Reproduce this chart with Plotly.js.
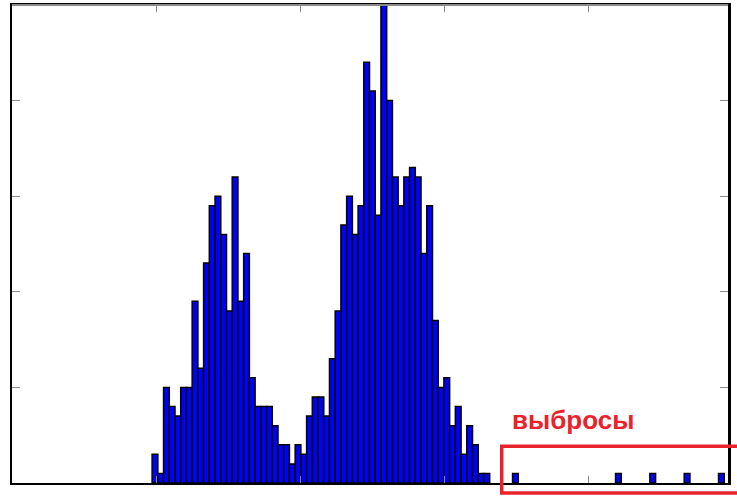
<!DOCTYPE html>
<html>
<head>
<meta charset="utf-8">
<script src="https://cdn.plot.ly/plotly-3.0.1.min.js"></script>
<style>
  html, body { margin: 0; padding: 0; background: #ffffff; }
  #chart { width: 737px; height: 497px; }
</style>
</head>
<body>
<div id="chart"></div>
<script>
// Histogram: 100 bins between histMin and histMax
const histMin = 0.973;
const histMax = 4.946;
const nBins = 100;

// Counts of the main body (bins 0..58)
const mainCounts = [3, 1, 10, 8, 7, 10, 10, 19, 12, 23,
                    29, 30, 26, 18, 32, 19, 24, 11, 8, 8,
                    8, 6, 4, 4, 2, 4, 3, 7, 9, 9,
                    7, 13, 18, 27, 30, 26, 29, 44, 41, 28,
                    50, 40, 32, 29, 32, 33, 32, 24, 29, 17,
                    10, 11, 6, 8, 3, 6, 4, 1, 1];
// Outliers: bin indices and their counts
const outlierBins = [63, 81, 87, 93, 99];
const outlierCounts = [1, 1, 1, 1, 1];

const annotationText = "выбросы";

// build full counts per bin
const counts = new Array(nBins).fill(0);
mainCounts.forEach((c, i) => { counts[i] = c; });
outlierBins.forEach((b, k) => { counts[b] = outlierCounts[k]; });

const binWidth = (histMax - histMin) / nBins;
const xs = [], ys = [];
counts.forEach((c, i) => {
  if (c > 0) { xs.push(histMin + binWidth * (i + 0.5)); ys.push(c); }
});

const trace = {
  type: 'bar',
  x: xs,
  y: ys,
  width: binWidth,
  marker: { color: '#0000ff', line: { color: '#000000', width: 1.5 } },
  hoverinfo: 'x+y'
};

const red = '#e8232b';

const layout = {
  width: 737,
  height: 497,
  margin: { l: 12, r: 9, t: 5, b: 14, pad: 0 },
  paper_bgcolor: '#ffffff',
  plot_bgcolor: '#ffffff',
  showlegend: false,
  bargap: 0,
  xaxis: {
    range: [0, 4.972],
    tick0: 0, dtick: 1,
    ticks: 'inside', ticklen: 7, tickwidth: 1, tickcolor: '#8a8a8a',
    showticklabels: false,
    showgrid: false, zeroline: false,
    showline: true, linecolor: '#000000', linewidth: 2,
    mirror: 'ticks'
  },
  yaxis: {
    range: [0, 50],
    tick0: 0, dtick: 10,
    ticks: 'inside', ticklen: 8, tickwidth: 1, tickcolor: '#8a8a8a',
    showticklabels: false,
    showgrid: false, zeroline: false,
    showline: true, linecolor: '#000000', linewidth: 2.5,
    mirror: 'ticks'
  },
  shapes: [
    { type: 'line', xref: 'paper', yref: 'paper', x0: 0, x1: 1, y0: 1, y1: 1,
      line: { color: '#8a8a8a', width: 2 }, layer: 'above' },
    { type: 'rect', xref: 'paper', yref: 'paper',
      x0: 0.684, x1: 1.03, y0: -0.021, y1: 0.077,
      line: { color: red, width: 3.5 }, fillcolor: 'rgba(0,0,0,0)', layer: 'above' }
  ],
  annotations: [
    { xref: 'paper', yref: 'paper', x: 0.695, y: 0.132,
      xanchor: 'left', yanchor: 'middle', showarrow: false,
      text: '<b>' + annotationText + '</b>',
      font: { family: 'Liberation Sans, Arial, sans-serif', size: 26, color: red } }
  ]
};

Plotly.newPlot('chart', [trace], layout, { displayModeBar: false, staticPlot: true });
</script>
</body>
</html>
